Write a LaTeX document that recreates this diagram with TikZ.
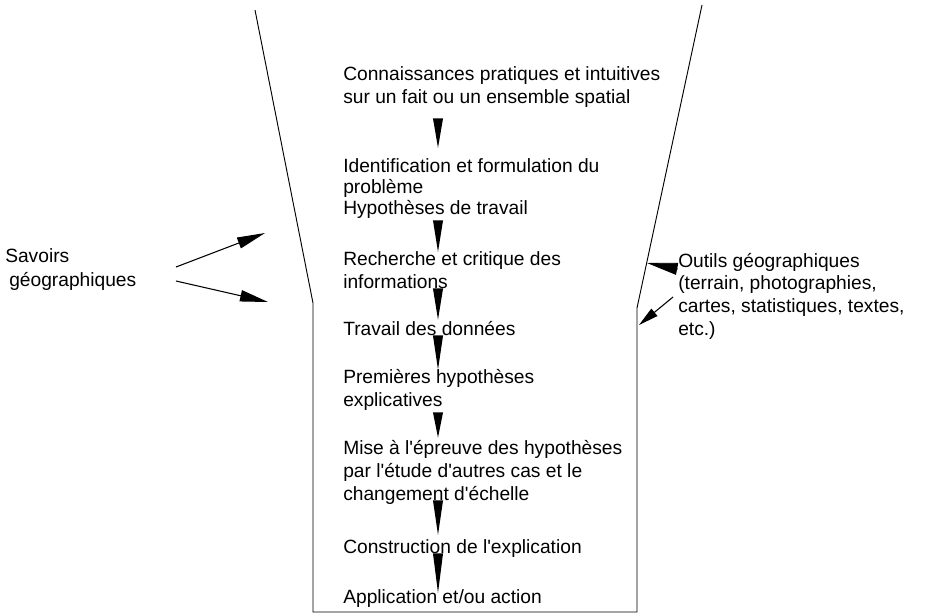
\documentclass[tikz,border=0pt]{standalone}
\usepackage{fontspec}
\setmainfont{Liberation Sans}
\usetikzlibrary{calc,arrows.meta}
\tikzset{
  steptext/.style={anchor=base west, inner sep=0pt, align=left, font=\fontsize{14.4}{17.25}\selectfont},
  flow/.style={to path={let \p1=(\tikztostart), \p2=(\tikztotarget) in (\x1-3.8pt,\y1) -- (\x1+3.8pt,\y1) -- (\x2,\y2) -- cycle}},
  feed/.style={-{Triangle[length=21pt,width=8.5pt]}, line width=0.8pt},
  outline/.style={line width=0.7pt}
}

\begin{document}
\begin{tikzpicture}[x=0.75pt,y=-0.75pt]
    \useasboundingbox (0,0) rectangle (931,615);
    \draw[outline] (255,10) -- (313,303) -- (313,612) -- (637,612) -- (637,308) -- (702,5);
    \coordinate (X) at (438,0);
    \node[steptext] (S1) at (343,103) {Connaissances pratiques et intuitives\\sur un fait ou un ensemble spatial};
    \node[steptext, font=\fontsize{14.4}{15.75}\selectfont] (S2) at (343,214) {Identification et formulation du\\probl\`eme\\Hypoth\`eses de travail};
    \node[steptext] (S3) at (343,288) {Recherche et critique des\\informations};
    \node[steptext] (S4) at (343,335) {Travail des donn\'ees};
    \node[steptext] (S5) at (343,406) {Premi\`eres hypoth\`eses\\explicatives};
    \node[steptext, font=\fontsize{14.4}{16.9}\selectfont] (S6) at (343,500) {Mise \`a l\textquotesingle\'epreuve des hypoth\`eses\\par l\textquotesingle\'etude d\textquotesingle autres cas et le\\changement d\textquotesingle\'echelle};
    \node[steptext] (S7) at (343,553) {Construction de l\textquotesingle explication};
    \node[steptext] (S8) at (343,603) {Application et/ou action};
    \fill[flow] ($(S1.south -| X)+(0,11)$) to ($(S2.north -| X)+(0,-10)$);
    \fill[flow] ($(S2.south -| X)+(0,2)$) to ($(S3.north -| X)+(0,1)$);
    \fill[flow] ($(S3.south -| X)+(0,0)$) to ($(S4.north -| X)+(0,-1)$);
    \fill[flow] ($(S4.south -| X)+(0,0)$) to ($(S5.north -| X)+(0,1)$);
    \fill[flow] ($(S5.south -| X)+(0,2)$) to ($(S6.north -| X)+(0,-3)$);
    \fill[flow] ($(S6.south -| X)+(0,-4)$) to ($(S7.north -| X)+(0,-4)$);
    \fill[flow] ($(S7.south -| X)+(0,-4)$) to ($(S8.north -| X)+(0,4)$);
    \node[steptext, font=\fontsize{14.4}{18}\selectfont] (SG) at (5,286) {Savoirs\\\hspace{3pt}g\'eographiques};
    \node[steptext, font=\fontsize{14.4}{17}\selectfont] (OG) at (678,335) {Outils g\'eographiques\\(terrain, photographies,\\cartes, statistiques, textes,\\etc.)};
    \coordinate (SG1) at (176,267);
    \coordinate (SG1t) at (265,233);
    \coordinate (SG2) at (176,281);
    \coordinate (SG2t) at (268,302);
    \coordinate (OG1) at (678,269);
    \coordinate (OG1t) at (647,263);
    \coordinate (OG2) at (673,297);
    \coordinate (OG2t) at (639,325);
    \draw[feed] (SG1) -- (SG1t);
    \draw[feed] (SG2) -- (SG2t);
    \draw[-{Triangle[length=23pt,width=9pt]}, line width=0.6pt] (OG1) -- (OG1t);
    \draw[-{Triangle[length=15pt,width=7pt]}, line width=0.8pt] (OG2) -- (OG2t);
\end{tikzpicture}
\end{document}
